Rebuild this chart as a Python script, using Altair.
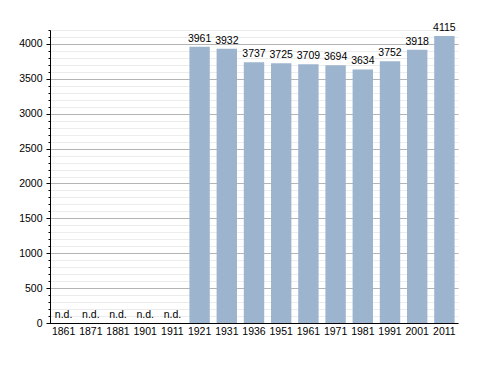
import altair as alt
import pandas as pd

years = ["1861", "1871", "1881", "1901", "1911", "1921", "1931", "1936",
         "1951", "1961", "1971", "1981", "1991", "2001", "2011"]
population = [None, None, None, None, None, 3961, 3932, 3737,
              3725, 3709, 3694, 3634, 3752, 3918, 4115]

df = pd.DataFrame({"year": years, "pop": population})
df["label"] = df["pop"].apply(lambda v: "n.d." if pd.isna(v) else str(int(v)))
df["ypos"] = df["pop"].fillna(0)

font = "Liberation Sans"
xscale = alt.Scale(domain=years, paddingInner=0.25, paddingOuter=0.125)
yscale = alt.Scale(domain=[0, 4200], nice=False)

x_enc = alt.X("year:N", scale=xscale, sort=years, title=None,
              axis=alt.Axis(labelAngle=0, ticks=False, domainColor="black",
                            labelFont=font, labelFontSize=10.5, labelColor="black",
                            labelPadding=3, grid=False))

minor = alt.Chart(df).mark_bar(opacity=0).encode(
    x=x_enc,
    y=alt.Y("ypos:Q", scale=yscale, title=None,
            axis=alt.Axis(orient="left", values=list(range(0, 4201, 100)),
                          labels=False, grid=True, gridColor="#ececec",
                          tickSize=2, tickColor="black", domain=False)),
)

bars = alt.Chart(df).mark_bar(color="#9db4cf").encode(
    x=x_enc,
    y=alt.Y("ypos:Q", scale=yscale, title=None,
            axis=alt.Axis(orient="left", values=list(range(0, 4001, 500)),
                          format="d",
                          grid=True, gridColor="#b4b4b4", tickSize=4,
                          tickColor="black", domainColor="black",
                          labelFont=font, labelFontSize=10.5, labelColor="black",
                          labelPadding=4)),
)

text = alt.Chart(df).mark_text(baseline="bottom", dy=-3, font=font,
                               fontSize=10.5, color="black").encode(
    x=alt.X("year:N", scale=xscale, sort=years, title=None),
    y=alt.Y("ypos:Q", scale=yscale, axis=None),
    text="label:N",
)

chart = alt.layer(minor, bars, text).resolve_axis(y="independent").properties(
    width=408, height=293,
    autosize=alt.AutoSizeParams(type="none"),
    padding={"left": 42, "top": 22, "right": 10, "bottom": 30},
).configure_view(stroke=None).configure_axis(domainWidth=1)

chart.save("out.html", embed_options={"renderer": "svg", "actions": False})
